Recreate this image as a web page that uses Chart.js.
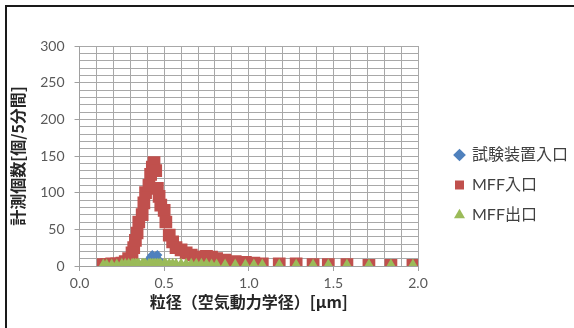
<!DOCTYPE html>
<html>
<head>
<meta charset="utf-8">
<script src="https://cdn.jsdelivr.net/npm/chart.js@4/dist/chart.umd.min.js"></script>
<style>
html,body{margin:0;padding:0;background:#fff;}
#wrap{position:absolute;left:0;top:0;width:574px;height:328px;}
#frame{position:absolute;left:5px;top:5px;width:580px;height:340px;border-left:2px solid #1a1a1a;border-top:2px solid #1a1a1a;pointer-events:none;}
</style>
</head>
<body>
<div id="wrap"><canvas id="c" width="574" height="328"></canvas></div>
<div id="frame"></div>
<script>
// particle size channels [µm]
const sizes = [0.14,0.16,0.19,0.22,0.25,0.27,0.29,0.31,0.32,0.33,0.34,0.35,0.37,0.38,0.39,0.41,0.42,0.43,0.44,0.45,0.46,0.47,0.48,0.50,0.51,0.53,0.55,0.57,0.60,0.63,0.66,0.69,0.72,0.75,0.78,0.81,0.86,0.92,0.98,1.03,1.08,1.18,1.28,1.38,1.47,1.58,1.71,1.84,1.97];
// 試験装置入口
const testInlet = [1,1,1,1,1,1,1,2,2,2,2,2,2,3,4,8,12,15,10,13,15,8,3,2,2,2,1,1,1,1,1,1,1,1,1,1,1,1,0,0,0,0,0,0,0,0,0,0,0];
// MFF入口
const mffInlet = [2,2,3,3,4,6,10,18,25,35,45,60,70,86,100,110,125,135,141,130,106,95,83,76,60,42,33,25,22,18,15,12,12,13,12,10,8,6,5,4,3,3,3,2,2,2,1,1,1];
// MFF出口
const mffOutlet = [0,0,0,0,1,1,1,1,1,1,1,1,1,1,1,1,1,1,1,1,1,1,1,1,1,1,1,1,1,1,1,1,1,1,0,0,0,0,0,0,0,0,0,0,0,0,0,0,0];
const seriesNames = ['試験装置入口','MFF入口','MFF出口'];
const xTitle = '粒径（空気動力学径）[µm]';
const yTitle = '計測個数[個/5分間]';

const pts = arr => sizes.map((x,i)=>({x:x,y:arr[i]}));
const FONT = 'Lato, "Noto Sans CJK JP", sans-serif';
const JFONT = '"Noto Sans CJK JP", sans-serif';
const isMajor = (v, step) => Math.abs(v/step - Math.round(v/step)) < 1e-6;

new Chart(document.getElementById('c'), {
  type: 'scatter',
  data: {
    datasets: [
      {label: seriesNames[0], data: pts(testInlet), pointStyle:'rectRot', pointRadius:5, pointHoverRadius:5,
       backgroundColor:'#4F81BD', borderColor:'#4F81BD', borderWidth:0, order:3},
      {label: seriesNames[1], data: pts(mffInlet), pointStyle:'rect', pointRadius:9, pointHoverRadius:9,
       backgroundColor:'#C0504D', borderColor:'#C0504D', borderWidth:0, order:2},
      {label: seriesNames[2], data: pts(mffOutlet), pointStyle:'triangle', pointRadius:7.5, pointHoverRadius:7.5,
       backgroundColor:'#9BBB59', borderColor:'#9BBB59', borderWidth:0, order:1}
    ]
  },
  options: {
    responsive:false, animation:false,
    layout:{padding:{left:6, top:46, right:0, bottom:4}},
    plugins:{
      tooltip:{enabled:false},
      legend:{
        position:'right', align:'center', maxWidth:133,
        labels:{usePointStyle:true, boxWidth:9, boxHeight:9, padding:14, color:'#404040',
                font:{family:FONT, size:16},
                sort:(a,b)=>a.datasetIndex-b.datasetIndex}
      }
    },
    scales:{
      x:{
        type:'linear', min:0, max:2,
        ticks:{stepSize:0.1, autoSkip:false, maxRotation:0, color:'#595959', padding:4,
               font:{family:FONT, size:14},
               callback:v => isMajor(v,0.5) ? v.toFixed(1) : ''},
        grid:{color:'#a8a8a8', lineWidth:1, tickLength:5,
              tickColor:ctx => (ctx.tick && isMajor(ctx.tick.value,0.5)) ? '#a0a0a0' : 'rgba(0,0,0,0)'},
        border:{color:'#a0a0a0'},
        title:{display:true, text:xTitle, color:'#262626', font:{family:JFONT, size:16, weight:'bold'}, padding:{top:-3,bottom:12}}
      },
      y:{
        type:'linear', min:0, max:300,
        ticks:{stepSize:10, autoSkip:false, color:'#595959', padding:10,
               font:{family:FONT, size:14},
               callback:v => isMajor(v,50) ? String(v) : ''},
        grid:{color:'#a8a8a8', lineWidth:1, tickLength:5,
              tickColor:ctx => (ctx.tick && isMajor(ctx.tick.value,50)) ? '#a0a0a0' : 'rgba(0,0,0,0)'},
        border:{color:'#a0a0a0'},
        title:{display:true, text:yTitle, color:'#262626', font:{family:JFONT, size:16, weight:'bold'}, padding:{top:2,bottom:3}}
      },
      gap:{
        type:'linear', position:'right', min:0, max:1, display:true,
        grid:{display:false, drawTicks:false}, ticks:{display:false}, border:{display:false},
        afterFit:s => { s.width = 23; }
      }
    }
  }
});
</script>
</body>
</html>
